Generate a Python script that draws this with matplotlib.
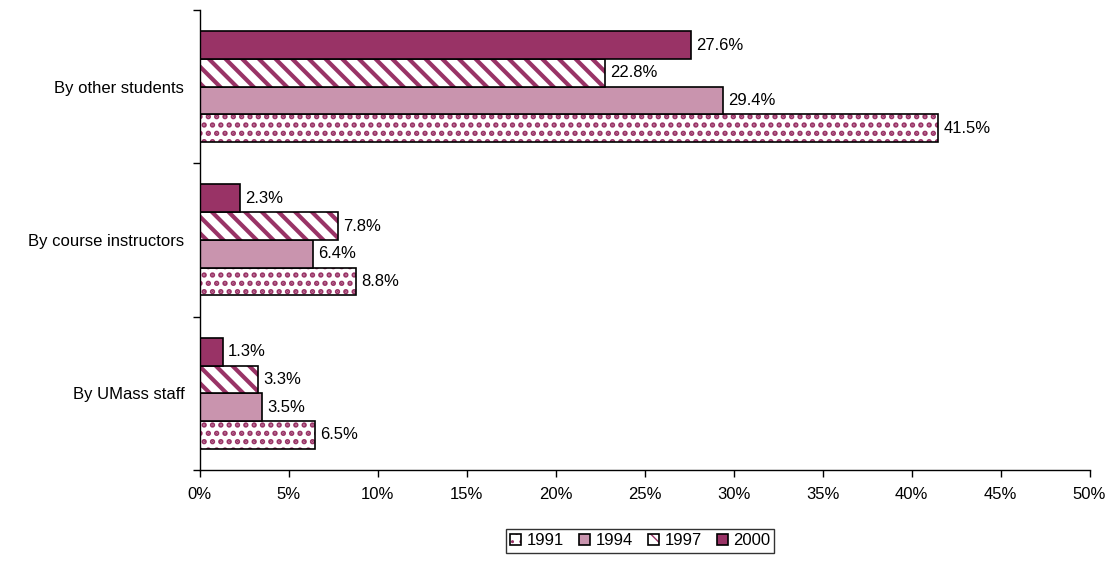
import matplotlib
matplotlib.use("Agg")
import matplotlib.pyplot as plt
import numpy as np

plt.rcParams['font.family'] = ['Liberation Sans', 'DejaVu Sans']

categories = ["By UMass staff", "By course instructors", "By other students"]
years = ["1991", "1994", "1997", "2000"]
v1991 = [6.5, 8.8, 41.5]
v1994 = [3.5, 6.4, 29.4]
v1997 = [3.3, 7.8, 22.8]
v2000 = [1.3, 2.3, 27.6]
xticks = [0, 5, 10, 15, 20, 25, 30, 35, 40, 45, 50]

series = [v1991, v1994, v1997, v2000]
C = '#993366'
styles = [
    dict(facecolor='white', hatch='..', hcolor=C, hlw=2.6),
    dict(facecolor='#c994ae', hatch=None, hcolor=C, hlw=0.6),
    dict(facecolor='white', hatch='\\\\', hcolor=C, hlw=3.0),
    dict(facecolor=C, hatch=None, hcolor=C, hlw=1.0),
]

fig = plt.figure(figsize=(11.16, 5.64), dpi=100)
ax = fig.add_axes([0.1788, 0.1667, 0.7975, 0.8156])

h = 0.181
offsets = [-1.5 * h, -0.5 * h, 0.5 * h, 1.5 * h]
y = np.arange(len(categories))
handles = []
for vals, off, st, yr in zip(series, offsets, styles, years):
    bars = ax.barh(y + off, vals, height=h, facecolor=st['facecolor'],
                   edgecolor='black', linewidth=1.2, hatch=st['hatch'], label=yr)
    for b in bars:
        b._hatch_color = matplotlib.colors.to_rgba(st['hcolor'])
        try:
            b.set_hatch_linewidth(st['hlw'])
        except Exception:
            pass
    handles.append(bars)
    for yy, v in zip(y + off, vals):
        ax.text(v + 0.28, yy, f"{v:.1f}%", va='center', ha='left', fontsize=12)

ax.set_xlim(0, 50)
ax.set_ylim(-0.5, 2.5)
ax.set_xticks(xticks)
ax.set_xticklabels([f"{t}%" for t in xticks], fontsize=12)
ax.set_yticks([-0.5, 0.5, 1.5, 2.5])
ax.set_yticklabels([])
ax.set_yticks(y, minor=True)
ax.set_yticklabels(categories, minor=True, fontsize=12)
ax.tick_params(axis='y', which='minor', length=0, pad=11)
ax.tick_params(axis='y', which='major', length=5, width=1, direction='out')
ax.tick_params(axis='x', length=5, width=1, direction='out', pad=7)
for s in ['top', 'right']:
    ax.spines[s].set_visible(False)
for s in ['left', 'bottom']:
    ax.spines[s].set_linewidth(1)

leg = fig.legend(handles=handles, labels=years, ncol=4, loc='center',
                 bbox_to_anchor=(0.5735, 0.0408), fontsize=12, frameon=True,
                 fancybox=False, handlelength=0.7, handleheight=0.7,
                 handletextpad=0.3, columnspacing=0.9, borderpad=0.25,
                 borderaxespad=0)
leg.get_frame().set_edgecolor('black')
leg.get_frame().set_linewidth(1)

fig.savefig("out.png", dpi=100)
